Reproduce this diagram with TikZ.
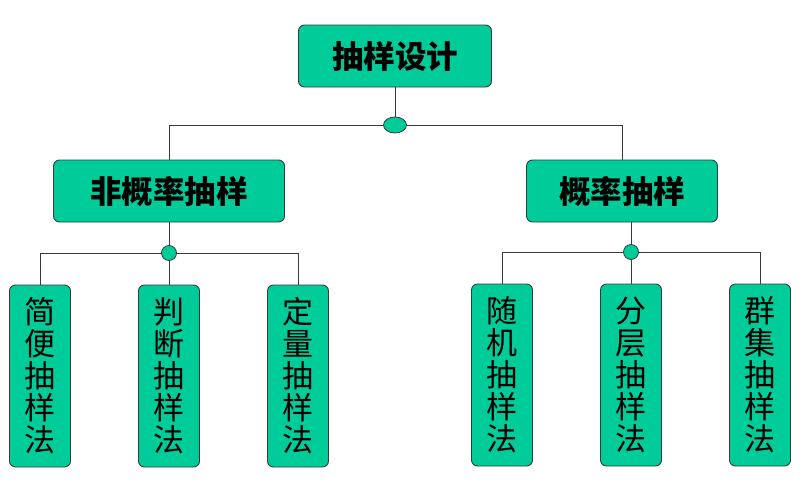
\documentclass[tikz,border=0pt]{standalone}
\usepackage{fontspec}
\newfontfamily\cjk{Noto Sans CJK SC}
\usepackage{xcolor}
\definecolor{BoxGreen}{HTML}{00CC99}
\definecolor{EdgeGray}{HTML}{3A3A3A}
\usepackage{tikz}
\usetikzlibrary{shapes.geometric, positioning}
\tikzset{
  % Box styles
  headbox/.style={rectangle, rounded corners=6pt, draw=EdgeGray, line width=0.9pt, fill=BoxGreen, minimum height=62pt, font=\cjk\bfseries\fontsize{31.5}{34}\selectfont, inner sep=0pt},
  methodbox/.style={rectangle, rounded corners=6pt, draw=EdgeGray, line width=0.9pt, fill=BoxGreen, minimum width=61pt, minimum height=182pt, text width=40pt, align=center, font=\cjk\fontsize{31}{32}\selectfont, inner sep=0pt},
  % Joint styles
  joint/.style={ellipse, draw=EdgeGray, line width=0.8pt, fill=BoxGreen, inner sep=0pt},
  % Line styles
  link/.style={draw=EdgeGray, line width=0.8pt}
}
\begin{document}
\begin{tikzpicture}[x=1pt, y=-1pt]
  \useasboundingbox (0,0) rectangle (800,480);

  % Top level
  \node[headbox, minimum width=193pt] (design) at (395,56) {抽样设计};
  \node[joint, minimum width=23pt, minimum height=16pt] (j0) at (395,125) {};

  % Second level
  \node[headbox, minimum width=231pt] (nonprob) at (169,191) {非概率抽样};
  \node[headbox, minimum width=191pt] (prob) at (622,191) {概率抽样};

  \node[joint, minimum size=15pt] (j1) at (169,253) {};
  \node[joint, minimum size=15pt] (j2) at (631,252) {};

  % Methods
  \node[methodbox] (m1) at (40,376) {简\\便\\抽\\样\\法};
  \node[methodbox] (m2) at (169,376) {判\\断\\抽\\样\\法};
  \node[methodbox] (m3) at (298,376) {定\\量\\抽\\样\\法};
  \node[methodbox] (m4) at (502,375) {随\\机\\抽\\样\\法};
  \node[methodbox] (m5) at (631,375) {分\\层\\抽\\样\\法};
  \node[methodbox] (m6) at (760,375) {群\\集\\抽\\样\\法};

  % Connectors
  \draw[link] (design.south) -- (j0.north);
  \draw[link] (j0.west) -| (nonprob.north);
  \draw[link] (j0.east) -| (prob.north);

  \draw[link] (nonprob.south) -- (j1.north);
  \draw[link] (j1.west) -| (m1.north);
  \draw[link] (j1.south) -- (m2.north);
  \draw[link] (j1.east) -| (m3.north);

  \draw[link] (prob.south -| j2) -- (j2.north);
  \draw[link] (j2.west) -| (m4.north);
  \draw[link] (j2.south) -- (m5.north);
  \draw[link] (j2.east) -| (m6.north);
\end{tikzpicture}
\end{document}
